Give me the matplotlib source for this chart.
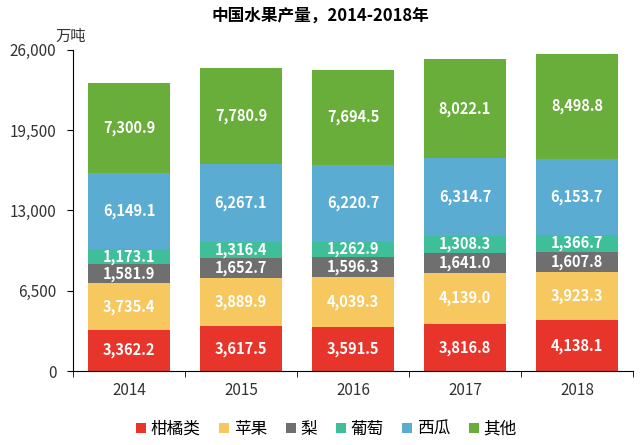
import numpy as np
import matplotlib
matplotlib.use("Agg")
import matplotlib.pyplot as plt
from matplotlib.ticker import FixedLocator

plt.rcParams['font.family'] = ['Noto Sans CJK SC', 'DejaVu Sans']

# ==================== 数据 ====================
anos = ['2014', '2015', '2016', '2017', '2018']
categorias = ['柑橘类', '苹果', '梨', '葡萄', '西瓜', '其他']
ganju = [3362.2, 3617.5, 3591.5, 3816.8, 4138.1]
pingguo = [3735.4, 3889.9, 4039.3, 4139.0, 3923.3]
li = [1581.9, 1652.7, 1596.3, 1641.0, 1607.8]
putao = [1173.1, 1316.4, 1262.9, 1308.3, 1366.7]
xigua = [6149.1, 6267.1, 6220.7, 6314.7, 6153.7]
qita = [7300.9, 7780.9, 7694.5, 8022.1, 8498.8]
y_ticks = [0, 6500, 13000, 19500, 26000]
# ==============================================

series = [ganju, pingguo, li, putao, xigua, qita]
cores = ['#E8352B', '#F6C85F', '#6F6F6F', '#3FBE9A', '#5AACD3', '#69AD3B']

fig = plt.figure(figsize=(6.4, 4.45), dpi=100)
ax = fig.add_axes([0.114, 0.166, 0.875, 0.722])

x = np.arange(len(anos))
base = np.zeros(len(anos))
handles = []
for nome, vals, cor in zip(categorias, series, cores):
    vals = np.array(vals)
    b = ax.bar(x, vals, bottom=base, width=0.74, color=cor, label=nome)
    handles.append(b)
    for xi, v, b0 in zip(x, vals, base):
        ax.text(xi, b0 + v / 2, f'{v:,.1f}', ha='center', va='center',
                color='white', fontsize=10.5, fontweight='bold')
    base = base + vals

ax.set_xlim(-0.5, len(anos) - 0.5)
ax.set_ylim(0, 26000)
ax.set_yticks(y_ticks)
ax.set_yticklabels([f'{v:,}' for v in y_ticks])
ax.set_xticks(x)
ax.set_xticklabels(anos)
ax.xaxis.set_minor_locator(FixedLocator(np.arange(-0.5, len(anos), 1.0)))
ax.tick_params(axis='x', which='major', length=0, labelsize=11,
               labelcolor='#333333', pad=8)
ax.tick_params(axis='x', which='minor', length=4, direction='out')
ax.tick_params(axis='y', length=4, direction='out', labelsize=11,
               labelcolor='#333333', pad=8)
for s in ['top', 'right']:
    ax.spines[s].set_visible(False)

fig.text(0.5, 0.965, '中国水果产量，2014-2018年', ha='center', va='center',
         fontsize=12, fontweight='bold')
fig.text(0.087, 0.918, '万吨', ha='left', va='center', fontsize=11,
         color='#333333')

fig.legend(handles=handles, loc='center', bbox_to_anchor=(0.51, 0.035),
           ncol=6, frameon=False, fontsize=12, handlelength=0.6,
           handleheight=0.6, handletextpad=0.3, columnspacing=1.1)

fig.savefig('out.png', dpi=100)
